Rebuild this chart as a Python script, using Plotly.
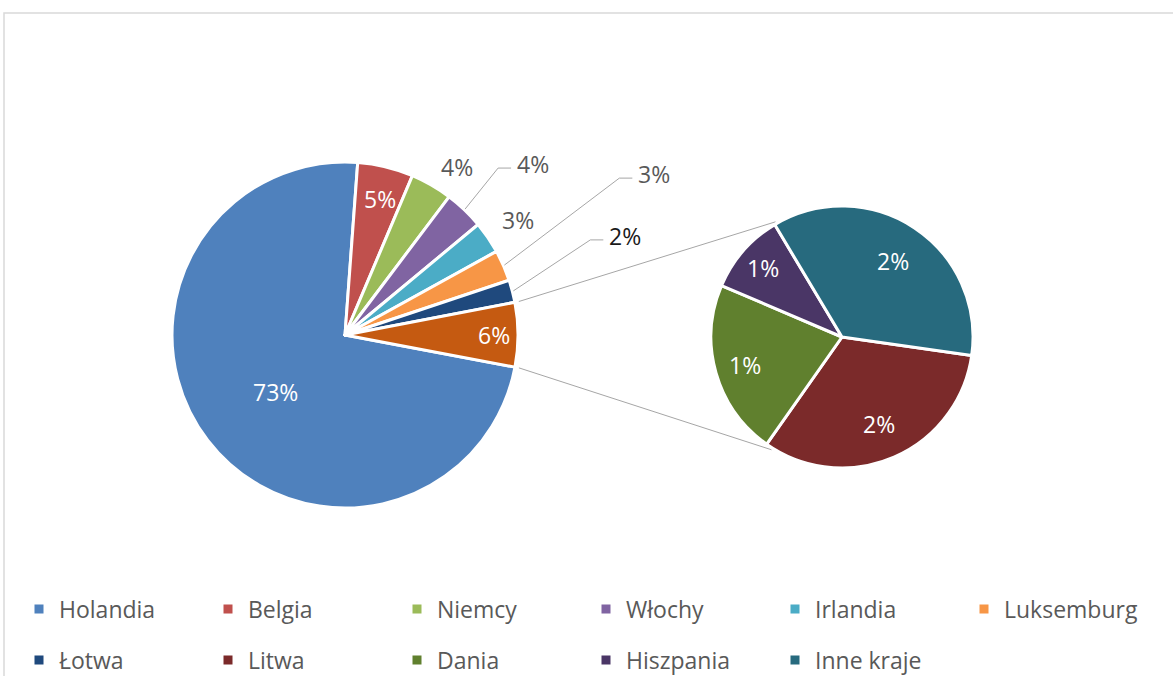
import math
import plotly.graph_objects as go

W, H = 1173, 676

# ---------------- data ----------------
main_labels = ["Holandia", "Belgia", "Niemcy", "Włochy", "Irlandia", "Luksemburg", "Łotwa"]
main_values = [73.2, 5.2, 3.9, 3.7, 3.0, 2.9, 2.1]
sub_labels = ["Litwa", "Dania", "Hiszpania", "Inne kraje"]
sub_values = [1.95, 1.3, 0.6, 2.15]
other_label = "Pozostałe"

# ---------------- style ----------------
main_colors = ["#4f81bd", "#c0504d", "#9bbb59", "#8064a2", "#4bacc6", "#f79646", "#1f497d"]
other_color = "#c55a11"
sub_colors = ["#7b2a2a", "#60802e", "#4a3666", "#276a7e"]
color_of = dict(zip(main_labels + sub_labels, main_colors + sub_colors))

FONT = "Open Sans"
GRAY = "#595959"
LINE = "#a6a6a6"
LBL = 23

# geometry (pixels)
MCX, MCY, MR = 345, 335, 173
SCX, SCY, SR = 842, 337, 131
MAIN_ROT = 100.7
SUB_ROT = 98.1


def px(x):
    return x / W


def py(y):
    return 1 - y / H


def slices(values, rotation):
    tot = sum(values)
    out = []
    a = rotation
    for v in values:
        span = v / tot * 360.0
        out.append((a, a + span, a + span / 2))
        a += span
    return out


def polar(cx, cy, r, ang):
    t = math.radians(ang)
    return cx + r * math.sin(t), cy - r * math.cos(t)


pie_main_vals = main_values + [sum(sub_values)]
pie_main_labels = main_labels + [other_label]
pie_main_cols = main_colors + [other_color]
grand_total = sum(pie_main_vals)

fig = go.Figure()

fig.add_trace(go.Pie(
    values=pie_main_vals, labels=pie_main_labels, sort=False,
    direction="clockwise", rotation=MAIN_ROT,
    marker=dict(colors=pie_main_cols, line=dict(color="white", width=3)),
    textinfo="none", showlegend=False, hoverinfo="label+percent",
    domain=dict(x=[px(MCX - MR), px(MCX + MR)], y=[py(MCY + MR), py(MCY - MR)]),
))

fig.add_trace(go.Pie(
    values=sub_values, labels=sub_labels, sort=False,
    direction="clockwise", rotation=SUB_ROT,
    marker=dict(colors=sub_colors, line=dict(color="white", width=3)),
    textinfo="none", showlegend=False, hoverinfo="label",
    domain=dict(x=[px(SCX - SR), px(SCX + SR)], y=[py(SCY + SR), py(SCY - SR)]),
))

annotations = []
shapes = []

# main pie labels: ("in", (radial fraction, angle shift)) or ("lead", (elbow dx, elbow dy))
msl = slices(pie_main_vals, MAIN_ROT)
main_label_style = [
    ("in", (0.52, -2.0), "white"),
    ("in", (0.81, 1.0), "white"),
    ("in", (1.17, 3.8), GRAY),
    ("lead", (33, -41), GRAY),
    ("in", (1.2, 0.5), GRAY),
    ("lead", (115, -87), GRAY),
    ("lead", (77, -51), "#1a1a1a"),
    ("in", (0.86, 0.0), "white"),
]
for v, (a0, a1, am), (kind, p, col) in zip(pie_main_vals, msl, main_label_style):
    txt = f"{round(v / grand_total * 100)}%"
    if kind == "in":
        x, y = polar(MCX, MCY, MR * p[0], am + p[1])
        annotations.append(dict(x=px(x), y=py(y), xref="paper", yref="paper", text=txt,
                                xanchor="center", yanchor="middle", showarrow=False,
                                font=dict(family=FONT, size=LBL, color=col)))
    else:
        ex, ey = polar(MCX, MCY, MR + 1, am)
        bx, by = ex + p[0], ey + p[1]
        hx = bx + 13
        shapes.append(dict(type="path", xref="paper", yref="paper",
                           path=f"M{px(ex)},{py(ey)} L{px(bx)},{py(by)} L{px(hx)},{py(by)}",
                           line=dict(color=LINE, width=1)))
        annotations.append(dict(x=px(hx + 4), y=py(by - 4), xref="paper", yref="paper", text=txt,
                                xanchor="left", yanchor="middle", showarrow=False,
                                font=dict(family=FONT, size=LBL, color=col)))

# secondary pie labels
ssl = slices(sub_values, SUB_ROT)
sub_frac = [0.72, 0.77, 0.8, 0.7]
for v, (a0, a1, am), f in zip(sub_values, ssl, sub_frac):
    x, y = polar(SCX, SCY, SR * f, am)
    annotations.append(dict(x=px(x), y=py(y), xref="paper", yref="paper",
                            text=f"{round(v / grand_total * 100)}%", showarrow=False,
                            xanchor="center", yanchor="middle",
                            font=dict(family=FONT, size=LBL, color="white")))

# connector lines (other slice -> secondary pie)
o0, o1, _ = msl[-1]
p_top = polar(MCX, MCY, MR + 4, o0)
p_bot = polar(MCX, MCY, MR + 4, o1)
s_top = polar(SCX, SCY, SR + 2, 330)
s_bot = polar(SCX, SCY, SR + 2, 212)
for a, b in ((p_top, s_top), (p_bot, s_bot)):
    shapes.append(dict(type="line", xref="paper", yref="paper",
                       x0=px(a[0]), y0=py(a[1]), x1=px(b[0]), y1=py(b[1]),
                       line=dict(color=LINE, width=1), layer="below"))

# chart border
shapes.append(dict(type="rect", xref="paper", yref="paper",
                   x0=px(4), x1=px(W + 10), y0=py(H + 10), y1=py(13),
                   line=dict(color="#d9d9d9", width=1.5)))

# legend entries (two rows)
legend_row1 = main_labels[:6]
legend_row2 = main_labels[6:] + sub_labels
for lab in legend_row1:
    fig.add_trace(go.Scatter(x=[None], y=[None], mode="markers", name=lab,
                             marker=dict(symbol="square", size=9, color=color_of[lab]),
                             legend="legend", hoverinfo="skip"))
for lab in legend_row2:
    fig.add_trace(go.Scatter(x=[None], y=[None], mode="markers", name=lab,
                             marker=dict(symbol="square", size=9, color=color_of[lab]),
                             legend="legend2", hoverinfo="skip"))

leg_common = dict(orientation="h", xanchor="left", yanchor="middle",
                  entrywidth=144, entrywidthmode="pixels",
                  font=dict(family=FONT, size=23, color=GRAY),
                  bgcolor="rgba(0,0,0,0)", traceorder="normal", itemclick=False)

fig.update_layout(
    width=W, height=H,
    margin=dict(l=0, r=0, t=0, b=0, autoexpand=False),
    paper_bgcolor="white", plot_bgcolor="white",
    xaxis=dict(visible=False), yaxis=dict(visible=False),
    shapes=shapes, annotations=annotations,
    legend=dict(x=px(19), y=py(609), **leg_common),
    legend2=dict(x=px(19), y=py(660), **leg_common),
)

fig.write_html("out.html")
